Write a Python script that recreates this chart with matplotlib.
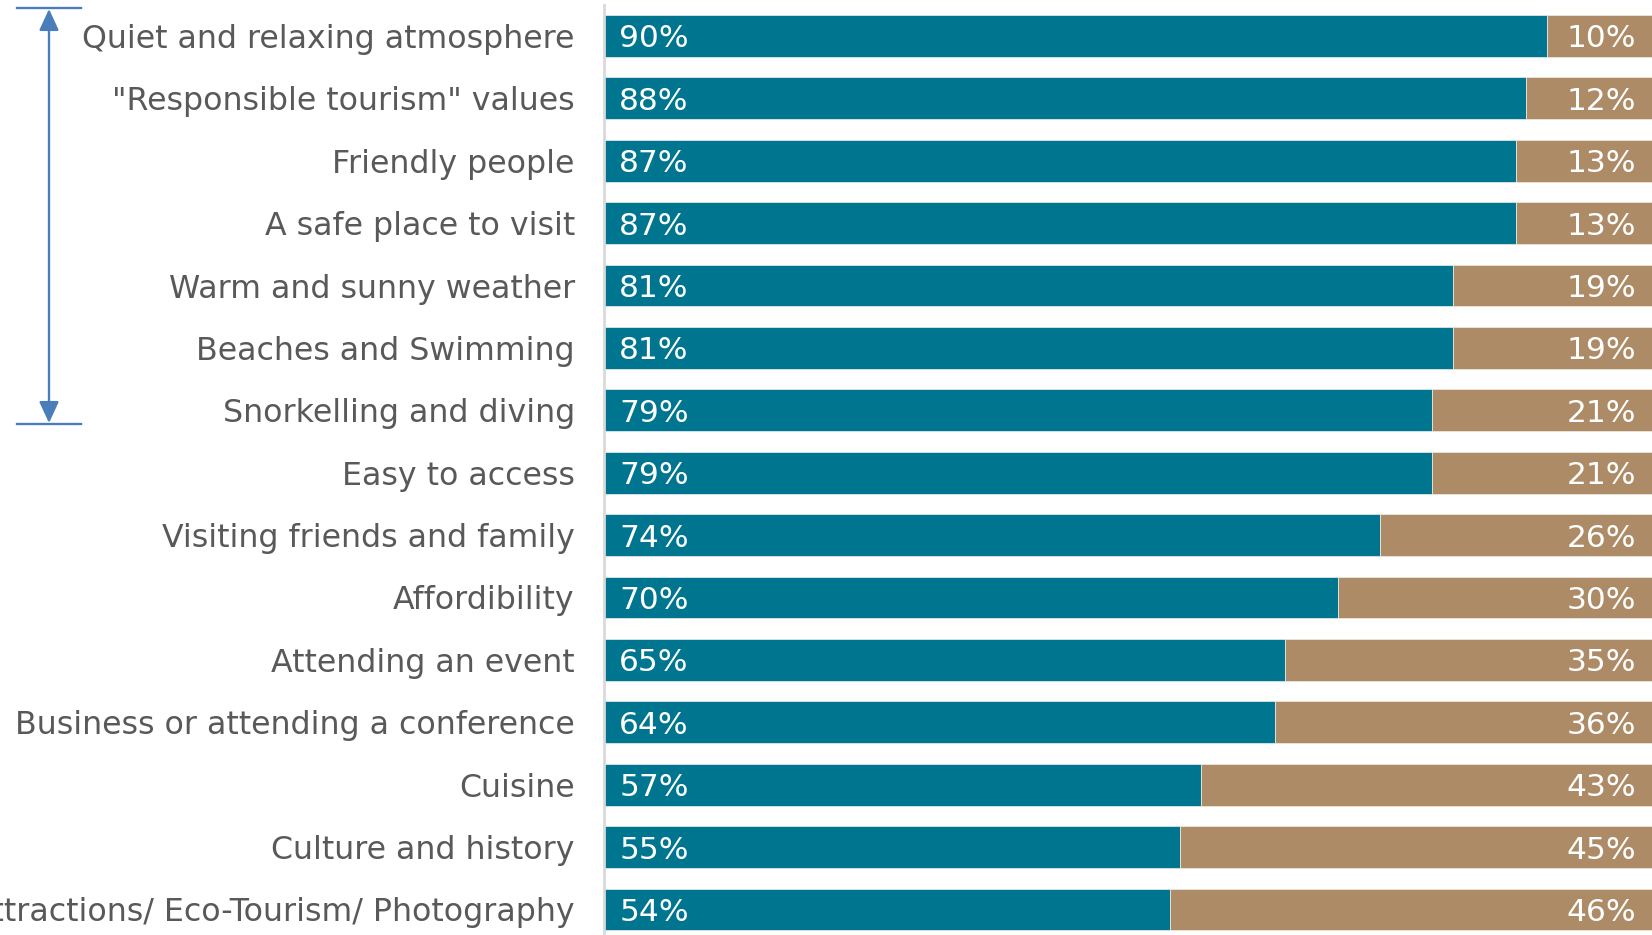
import matplotlib
matplotlib.use("Agg")
import matplotlib.pyplot as plt
from matplotlib.patches import FancyArrowPatch
from matplotlib.lines import Line2D

categories = [
    "Quiet and relaxing atmosphere",
    "\"Responsible tourism\" values",
    "Friendly people",
    "A safe place to visit",
    "Warm and sunny weather",
    "Beaches and Swimming",
    "Snorkelling and diving",
    "Easy to access",
    "Visiting friends and family",
    "Affordibility",
    "Attending an event",
    "Business or attending a conference",
    "Cuisine",
    "Culture and history",
    "Nature attractions/ Eco-Tourism/ Photography",
]
important = [90, 88, 87, 87, 81, 81, 79, 79, 74, 70, 65, 64, 57, 55, 54]
not_important = [10, 12, 13, 13, 19, 19, 21, 21, 26, 30, 35, 36, 43, 45, 46]

BLUE = "#00758F"
TAN = "#AD8B66"
TEXT = "#595959"
ARROW = "#4A7EBB"

plt.rcParams["font.family"] = ["DejaVu Sans"]

W, H = 1652, 935
fig = plt.figure(figsize=(W / 100, H / 100), dpi=100)
ax = fig.add_axes([604 / W, 1 - 940.6 / H, 1 - 604 / W, (940.6 - 4.8) / H])

y = list(range(len(categories)))
ax.barh(y, important, height=0.67, color=BLUE, edgecolor="#d9e6ea", linewidth=0.6)
ax.barh(y, not_important, left=important, height=0.67, color=TAN,
        edgecolor="#eee6dc", linewidth=0.6)

for yi, a, b in zip(y, important, not_important):
    ax.text(1.45, yi, f"{a}%", color="white", fontsize=22.5,
            va="center_baseline", ha="left")
    ax.text(98.5, yi, f"{b}%", color="white", fontsize=22.5,
            va="center_baseline", ha="right")

ax.set_xlim(0, 100)
ax.set_ylim(len(categories) - 0.5, -0.5)
ax.set_xticks([])
ax.set_yticks(y)
ax.set_yticklabels(categories, fontsize=22.8, color=TEXT)
for lbl in ax.get_yticklabels():
    lbl.set_verticalalignment("center_baseline")
ax.tick_params(axis="y", length=0, pad=21)
for side in ["top", "right", "bottom"]:
    ax.spines[side].set_visible(False)
ax.spines["left"].set_color("#d9d9d9")
ax.spines["left"].set_linewidth(2)

# bracket arrow spanning the top seven items
ov = fig.add_axes([0, 0, 1, 1], facecolor="none")
ov.set_xlim(0, W)
ov.set_ylim(H, 0)
ov.axis("off")
ov.add_line(Line2D([17, 81], [8, 8], color=ARROW, lw=1.7))
ov.add_line(Line2D([17, 81], [423.5, 423.5], color=ARROW, lw=1.7))
ov.add_patch(FancyArrowPatch((49, 9), (49, 423), arrowstyle="<|-|>,head_length=13,head_width=6",
                             color=ARROW, lw=1.7, shrinkA=0, shrinkB=0,
                             mutation_scale=1))

fig.savefig("out.png", dpi=100)
